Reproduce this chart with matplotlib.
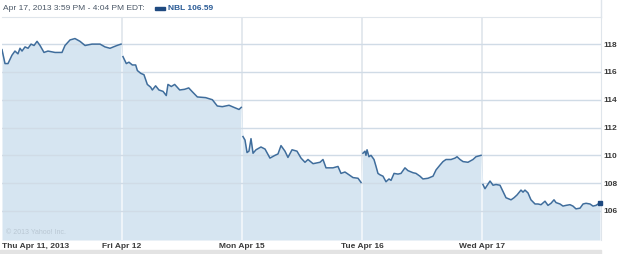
import matplotlib
matplotlib.use("Agg")
import matplotlib.pyplot as plt
from matplotlib.lines import Line2D
from matplotlib.patches import Rectangle

# ---- data ----
day_labels = ["Thu Apr 11, 2013", "Fri Apr 12", "Mon Apr 15", "Tue Apr 16", "Wed Apr 17"]
y_ticks = [106, 108, 110, 112, 114, 116, 118]

thu_frac = [0, .025, .05, .083, .108, .133, .15, .167, .192, .217, .242, .267, .292, .317, .35, .383,
            .442, .5, .525, .567, .608, .65, .692, .75, .817, .858, .9, .958, .992]
thu_px = [117.6, 116.6, 116.6, 117.2, 117.5, 117.3, 117.7, 117.5, 117.8, 117.7, 118.0, 117.9, 118.2,
          117.9, 117.4, 117.5, 117.4, 117.4, 117.9, 118.3, 118.4, 118.2, 117.9, 118.0, 118.0, 117.8,
          117.7, 117.9, 118.0]

fri_frac = [.008, .036, .058, .086, .114, .128, .156, .183, .211, .239, .253, .28, .308, .342, .369,
            .383, .411, .439, .481, .522, .556, .583, .628, .697, .753, .794, .836, .892, .933, .975, .994]
fri_px = [117.1, 116.6, 116.7, 116.5, 116.5, 116.1, 115.9, 115.8, 115.1, 114.9, 114.7, 115.0, 114.7,
          114.6, 114.3, 115.1, 114.95, 115.1, 114.7, 114.75, 114.85, 114.6, 114.2, 114.15, 114.0,
          113.55, 113.5, 113.6, 113.45, 113.3, 113.45]

mon_frac = [.008, .025, .042, .058, .075, .092, .117, .158, .192, .233, .275, .3, .325, .358, .383,
            .417, .458, .492, .525, .55, .592, .65, .675, .7, .758, .8, .825, .858, .892, .925, .967, .992]
mon_px = [111.35, 111.1, 110.2, 110.3, 111.2, 110.15, 110.4, 110.6, 110.45, 109.8, 110.0, 110.1, 110.7,
          110.3, 109.85, 110.4, 110.3, 109.8, 109.5, 109.7, 109.4, 109.5, 109.7, 109.1, 109.1, 109.2,
          108.7, 108.8, 108.6, 108.4, 108.35, 108.05]

tue_frac = [.008, .025, .033, .042, .058, .075, .1, .117, .133, .15, .175, .2, .225, .242, .267, .3,
            .325, .358, .383, .425, .45, .483, .508, .55, .592, .617, .65, .675, .7, .742, .775, .792,
            .817, .842, .883, .925, .95, .992]
tue_px = [110.15, 110.3, 110.0, 110.4, 109.9, 110.0, 109.7, 109.2, 108.7, 108.6, 108.5, 108.1, 108.3,
          108.2, 108.7, 108.65, 108.7, 109.1, 108.9, 108.75, 108.7, 108.5, 108.3, 108.35, 108.5, 108.95,
          109.3, 109.55, 109.7, 109.7, 109.8, 109.9, 109.7, 109.55, 109.5, 109.7, 109.9, 110.0]

wed_frac = [.008, .025, .067, .092, .117, .15, .175, .2, .242, .267, .292, .325, .342, .358, .383, .408,
            .442, .467, .492, .525, .55, .575, .6, .617, .65, .675, .7, .733, .758, .783, .817, .842,
            .867, .9, .925, .95, .983]
wed_px = [107.9, 107.6, 108.15, 107.85, 107.9, 107.85, 107.4, 106.95, 106.8, 106.95, 107.15, 107.5,
          107.35, 107.5, 107.3, 106.8, 106.5, 106.5, 106.45, 106.7, 106.4, 106.55, 106.8, 106.6, 106.5,
          106.35, 106.4, 106.45, 106.35, 106.15, 106.2, 106.5, 106.55, 106.5, 106.35, 106.4, 106.59]

days_frac = [thu_frac, fri_frac, mon_frac, tue_frac, wed_frac]
days_px = [thu_px, fri_px, mon_px, tue_px, wed_px]
last_price = wed_px[-1]

# ---- style ----
LINE = "#3f6d9c"
FILL = "#d6e5f1"
GRID_H = "#d0dbe6"
GRID_V = "#dfe5eb"
TXT = "#3a3a3a"
FONT = "Liberation Sans"

W, H = 625, 254
fig = plt.figure(figsize=(W / 100, H / 100), dpi=100)
ax_l, ax_r, ax_t, ax_b = 2, 601, 17, 240
ax = fig.add_axes([ax_l / W, 1 - ax_b / H, (ax_r - ax_l) / W, (ax_b - ax_t) / H])

ymin, ymax = 103.91, 119.95
ax.set_ylim(ymin, ymax)
ax.set_xlim(0, (ax_r - ax_l) / 120)

all_t, all_p = [], []
for d, (fr, px) in enumerate(zip(days_frac, days_px)):
    all_t += [d + f for f in fr]
    all_p += px

for d in range(1, 5):
    ax.axvline(d, color=GRID_V, lw=1.2, zorder=0.5)
coll = ax.fill_between(all_t, all_p, ymin, color=FILL, lw=0, zorder=1)
clip_path = coll.get_paths()[0]
for d in range(1, 5):
    vl = ax.axvline(d, color="#f4f8fb", lw=1.2, zorder=2)
    vl.set_clip_path(clip_path, ax.transData)
for yv in y_ticks:
    ax.axhline(yv, color=GRID_H, lw=1, zorder=2.1)
for d, (fr, px) in enumerate(zip(days_frac, days_px)):
    ax.plot([d + f for f in fr], px, color=LINE, lw=1.1, zorder=3, solid_joinstyle="round")
ax.plot([all_t[-1]], [last_price], marker="s", ms=3.2, color="#1f4a80", zorder=4, clip_on=False)

for s in ax.spines.values():
    s.set_visible(False)
ax.spines["top"].set_visible(True)
ax.spines["top"].set_color(GRID_V)
ax.spines["right"].set_visible(True)
ax.spines["right"].set_color(GRID_V)

ax.set_yticks(y_ticks)
ax.set_yticklabels([str(v) for v in y_ticks], fontname=FONT, fontweight="bold", fontsize=6, color=TXT)
ax.yaxis.tick_right()
ax.tick_params(axis="y", length=0, pad=2)

ax.set_xticks(range(5))
ax.set_xticklabels(day_labels, fontname=FONT, fontweight="bold", fontsize=6, color=TXT)
ax.get_xticklabels()[0].set_horizontalalignment("left")
ax.tick_params(axis="x", length=0, pad=2)

ax.text(0.006, 0.025, "\u00a9 2013 Yahoo! Inc.", transform=ax.transAxes, fontname=FONT,
        fontsize=5, color="#b9c7d3", zorder=5)

# header
fig.text(3 / W, 1 - 8.5 / H, "Apr 17, 2013 3:59 PM - 4:04 PM EDT:", fontname=FONT, fontsize=6,
         color="#4a5766", va="center", ha="left")
fig.patches.append(Rectangle((155 / W, 1 - 10 / H), 10 / W, 3 / H, transform=fig.transFigure,
                             color="#1f4a80"))
fig.text(168 / W, 1 - 8.5 / H, "NBL %.2f" % last_price, fontname=FONT, fontsize=6, fontweight="bold",
         color="#2a5b96", va="center", ha="left")
fig.lines.append(Line2D([ax_r / W, ax_r / W], [1 - ax_t / H, 1], transform=fig.transFigure,
                        color=GRID_V, lw=1))
fig.patches.append(Rectangle((0, 0), 601 / W, 4 / H, transform=fig.transFigure, color="#e3e3e3"))

fig.savefig("out.png", dpi=100)
